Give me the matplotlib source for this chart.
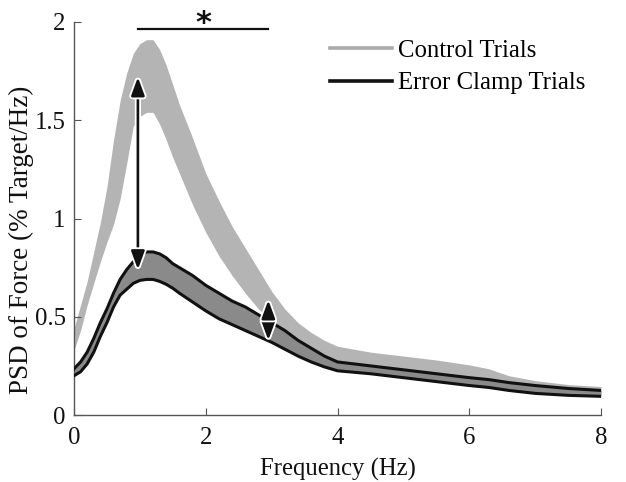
import matplotlib
matplotlib.use("Agg")
import matplotlib.pyplot as plt
import matplotlib.patheffects as pe
from matplotlib.lines import Line2D
import numpy as np

freq = [0, 0.1, 0.2, 0.3, 0.4, 0.5, 0.6, 0.7, 0.8, 0.9, 1.0, 1.1, 1.2, 1.3, 1.4,
        1.5, 1.6, 1.8, 2.0, 2.2, 2.4, 2.6, 2.8, 3.0, 3.2, 3.4, 3.6, 3.8, 4.0,
        4.5, 5.0, 5.5, 6.0, 6.3, 6.6, 7.0, 7.5, 8.0]

control_upper = [0.44, 0.56, 0.68, 0.83, 0.98, 1.16, 1.40, 1.60, 1.74, 1.84, 1.89, 1.91,
                 1.91, 1.86, 1.78, 1.68, 1.58, 1.41, 1.23, 1.09, 0.96, 0.85, 0.74, 0.63,
                 0.54, 0.47, 0.42, 0.38, 0.35, 0.32, 0.30, 0.28, 0.255, 0.235, 0.20,
                 0.175, 0.155, 0.145]
control_lower = [0.33, 0.43, 0.56, 0.67, 0.78, 0.88, 0.97, 1.10, 1.28, 1.47, 1.52, 1.54,
                 1.54, 1.48, 1.40, 1.31, 1.23, 1.07, 0.93, 0.81, 0.71, 0.62, 0.54, 0.48,
                 0.43, 0.38, 0.34, 0.30, 0.27, 0.245, 0.22, 0.20, 0.18, 0.17, 0.155,
                 0.14, 0.125, 0.115]
clamp_upper = [0.235, 0.27, 0.32, 0.39, 0.47, 0.54, 0.62, 0.69, 0.74, 0.78, 0.81, 0.83,
               0.83, 0.82, 0.80, 0.77, 0.75, 0.71, 0.66, 0.62, 0.58, 0.55, 0.51, 0.47,
               0.43, 0.38, 0.34, 0.30, 0.27, 0.25, 0.23, 0.21, 0.19, 0.18, 0.165,
               0.15, 0.135, 0.125]
clamp_lower = [0.20, 0.22, 0.26, 0.32, 0.40, 0.47, 0.55, 0.61, 0.64, 0.67, 0.685, 0.69,
               0.69, 0.68, 0.665, 0.645, 0.62, 0.575, 0.53, 0.49, 0.46, 0.43, 0.40, 0.37,
               0.335, 0.30, 0.27, 0.245, 0.225, 0.21, 0.19, 0.17, 0.15, 0.14, 0.125,
               0.11, 0.10, 0.095]

series_labels = ["Control Trials", "Error Clamp Trials"]
x_ticks = [0, 2, 4, 6, 8]
y_ticks = [0, 0.5, 1, 1.5, 2]
y_ticklabels = ["0", "0.5", "1", "1.5", "2"]

# annotations (data coords)
long_arrow = (0.97, 0.74, 1.72)      # x, y_bottom, y_top
short_arrow = (2.95, 0.38, 0.585)
sig_bar = (0.97, 2.95, 1.965)

plt.rcParams['font.family'] = ['Liberation Serif', 'DejaVu Serif']

fig = plt.figure(figsize=(6.26, 4.82), dpi=100)
ax = fig.add_axes([74/626, 1 - 415/482, (601-74)/626, (415-22)/482])

ctrl_col = '#b4b4b4'
clamp_fill = '#8a8a8a'

ax.fill_between(freq, control_lower, control_upper, color=ctrl_col, lw=0, zorder=1)
ax.fill_between(freq, clamp_lower, clamp_upper, color=clamp_fill, lw=0, zorder=2)
ax.plot(freq, clamp_upper, color='#111111', lw=2.2, zorder=3, solid_joinstyle='round')
ax.plot(freq, clamp_lower, color='#111111', lw=2.2, zorder=3, solid_joinstyle='round')

halo = [pe.withStroke(linewidth=4.5, foreground='white')]
for (xa, yb, yt) in [long_arrow, short_arrow]:
    ann = ax.annotate('', xy=(xa, yt), xytext=(xa, yb),
                      arrowprops=dict(arrowstyle='<|-|>,head_length=1.1,head_width=0.4',
                                      color='#111111', lw=1.9, shrinkA=0, shrinkB=0),
                      zorder=5)
    ann.arrow_patch.set_path_effects(halo)

ax.plot([sig_bar[0], sig_bar[1]], [sig_bar[2], sig_bar[2]], color='#111111', lw=1.6,
        clip_on=False, zorder=4)
ax.text((sig_bar[0] + sig_bar[1]) / 2, 1.95, '*', ha='center', va='baseline',
        fontsize=22, family='DejaVu Sans', fontweight='bold', color='#111111',
        clip_on=False)

handles = [Line2D([], [], color='#aaaaaa', lw=2.6),
           Line2D([], [], color='#111111', lw=2.6)]
ax.legend(handles, series_labels, loc='upper left', bbox_to_anchor=(0.486, 0.955),
          frameon=False, fontsize=17.8, handlelength=2.5, handletextpad=0.25,
          labelspacing=0.4, borderaxespad=0, borderpad=0)

ax.set_xlim(0, 8)
ax.set_ylim(0, 2)
ax.set_xticks(x_ticks)
ax.set_xticklabels([str(t) for t in x_ticks])
ax.set_yticks(y_ticks)
ax.set_yticklabels(y_ticklabels)
ax.tick_params(direction='in', length=5, width=0.8, color='#555555', labelsize=17.8,
               labelcolor='#111111')
ax.tick_params(axis='x', pad=9)
ax.tick_params(axis='y', pad=6)
for s in ['top', 'right']:
    ax.spines[s].set_visible(False)
for s in ['left', 'bottom']:
    ax.spines[s].set_color('#555555')
    ax.spines[s].set_linewidth(1.0)

ax.set_xlabel('Frequency (Hz)', fontsize=17.8, color='#111111', labelpad=6)
ax.set_ylabel('PSD of Force (% Target/Hz)', fontsize=19.5, color='#111111')
ax.yaxis.set_label_coords(-0.076, 0.445)

fig.savefig('out.png', dpi=100)
